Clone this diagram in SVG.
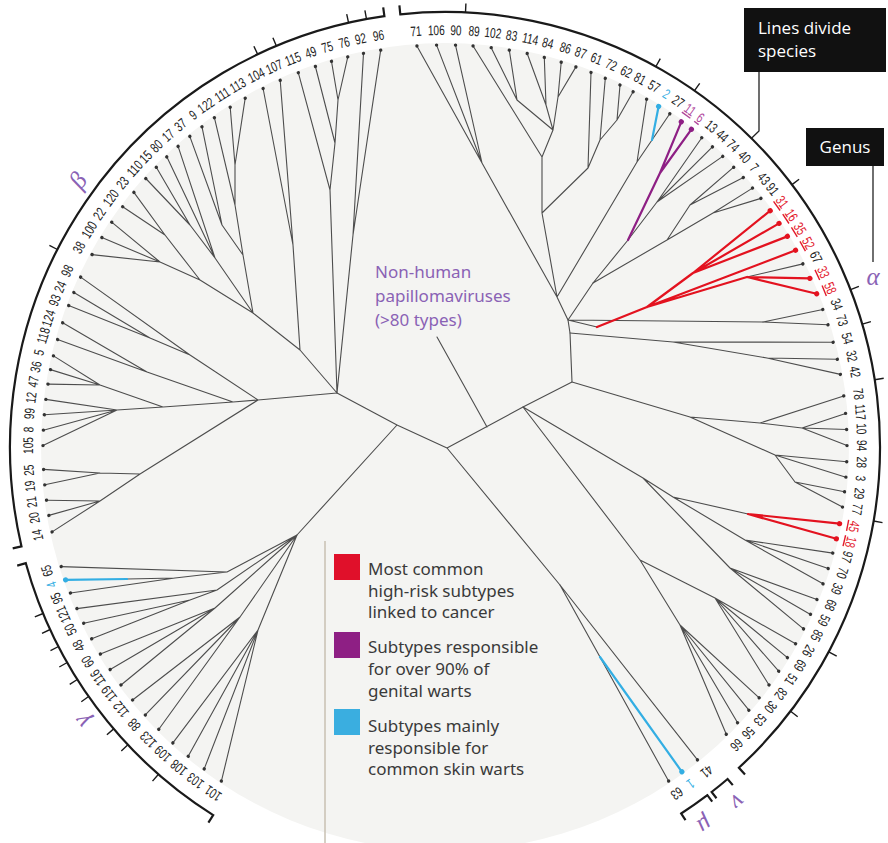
<svg xmlns="http://www.w3.org/2000/svg" width="888" height="843" viewBox="0 0 888 843">
<style>
.e{fill:none;stroke:#4d4d4d;stroke-width:1.1;stroke-linecap:round}
.er{fill:none;stroke:#e3121f;stroke-width:2.2;stroke-linecap:round}
.ep{fill:none;stroke:#8e1f84;stroke-width:2.2;stroke-linecap:round}
.ec{fill:none;stroke:#33aee3;stroke-width:2.2;stroke-linecap:round}
.arc{fill:none;stroke:#1a1a1a;stroke-width:2.2}
.tips text{font-family:"Liberation Sans",Arial,sans-serif;font-size:14px;text-anchor:middle;fill:#222}
.tips circle{fill:#333}
.tips .r text{fill:#e3192e;text-decoration:underline}
.tips .r circle{fill:#e3121f}
.tips .p text{fill:#b0469c;text-decoration:underline}
.tips .p circle{fill:#8e1f84}
.tips .c text{fill:#33aee3}
.tips .c circle{fill:#33aee3}
.lg{font-family:"Noto Sans","Open Sans",sans-serif;font-size:17px;fill:#3a3a3a}
.nh{font-family:"Noto Sans","Open Sans",sans-serif;font-size:17px;fill:#8a62b5}
.gk{font-family:"Liberation Serif",serif;font-style:italic;font-size:25px;fill:#8a62b5;text-anchor:middle}
.bx{font-family:"Open Sans","Noto Sans",sans-serif;font-size:17px;fill:#fff}
</style>
<defs>
<g id="dot"><circle cx="445" cy="45" r="1.7"/></g>
</defs>
<rect width="888" height="843" fill="#fff"/>
<circle cx="445" cy="447" r="404" fill="#f4f4f2"/>

<g id="connectors">
<path class="e" d="M447 448L523 407M447 448L397 425M447 448L560 585M523 407L572 382M572 382L570 333M570 333L568 320M397 425L337 393M397 425L297 535M437 337L487 427"/>
<path class="e" d="M568 320L557 297M568 320L593 283M568 320L597 327M568 320L763 322M557 297L482 163M557 297L542 213M557 297L637 162M482 163L416.9 46M482 163L436.6 45.1M482 163L455.5 45.1M542 213L542 157M542 213L588 168M542 157L473.1 46M542 157L553 130M553 130L517 100M553 130L546 105M553 130L558 97M517 100L491.2 47.7M517 100L509.3 50.2M546 105L527.2 53.5M546 105L544.3 57.5M558 97L561.2 62.2M558 97L575.9 66.9M588 168L591 72.5M588 168L600 140M600 140L605.3 78.3M600 140L617 120M617 120L620 85.1M617 120L633.1 91.7M637 162L646.6 99.2M637 162L652 140M652 140L669.8 113.7"/>
<path class="e" d="M593 283L628 240M593 283L667 240M628 240L657 202M657 202L701.8 137.7M657 202L712.4 146.9M657 202L722.7 156.4M667 240L690 205M667 240L713 213M690 205L733.7 167.2M690 205L743.3 177.5M713 213L752.5 188.1M713 213L760.9 198.4M747 277L802.9 263.9M763 322L822.8 309.5M763 322L828 324.8M570 333L673 342M673 342L833.1 342.3M673 342L767 358M767 358L837.3 359.3M767 358L840.4 374.4"/>
<path class="e" d="M572 382L690 417M690 417L760 423M760 423L843.7 395.9M760 423L802 428M802 428L845.6 413.4M802 428L846.6 429.5M802 428L847 445.6M690 417L775 455M775 455L846.7 461.7M775 455L845.9 477.2M775 455L795 482M795 482L844.5 491.8M795 482L842.5 507.1"/>
<path class="e" d="M523 407L643 478M643 478L673 497M673 497L748 514M673 497L745 540M745 540L832.8 553.1M745 540L828.2 568.6M745 540L823 583.8M643 478L730 568M730 568L816.9 599.6M730 568L810.5 614.4M730 568L803.5 628.9M523 407L640 560M640 560L715 598M715 598L795.6 643.7M715 598L787.4 657.6M715 598L778.7 671.2M715 598L769 685M640 560L680 625M680 625L759.2 697.8M680 625L748.9 710.2M680 625L737.6 722.7M680 625L726.3 734.2"/>
<path class="e" d="M560 585L697.5 759.8M560 585L600 657M600 657L668.6 781.1"/>
<path class="e" d="M337 393L353 235M353 235L363.5 53.4M353 235L380.7 50.2M337 393L330 190M330 190L298.3 72.7M330 190L335 143M335 143L315.4 66.5M335 143L338 100M338 100L331.5 61.4M338 100L347.8 56.9M337 393L300 350M300 350L293 245M293 245L263.1 88.5M293 245L280.2 80.3M300 350L253 313M253 313L243 255M243 255L235 205M235 205L214.4 117.7M235 205L235 165M235 165L230.2 107.2M235 165L245.2 98.1M243 255L222 225M222 225L202 126.8M222 225L189.8 136.4M253 313L215 258M215 258L178.1 146.4M215 258L166.8 156.8M215 258L190 225M190 225L156.3 167.2M190 225L145.8 178.5M253 313L200 280M200 280L165 235M165 235L133.9 192.4M165 235L122.7 206.8M200 280L160 262M160 262L111.7 222.2M160 262L101.9 237.6M160 262L92 254.6"/>
<path class="e" d="M337 393L258 400M258 400L233 402M233 402L147 372M147 372L57.6 339.6M147 372L62.7 322.8M233 402L163 407M163 407L100 385M100 385L48 384.1M100 385L50.5 369.6M100 385L53.5 355.9M163 407L117 410M117 410L45.8 399.4M117 410L44.3 414.8M117 410L43.4 430.2M117 410L43 445.6M258 400L190 355M190 355L80.7 277.1M190 355L150 338M150 338L73.9 292.5M150 338L68.7 305.6M258 400L140 474M140 474L100 473M100 473L43.6 469.4M100 473L44.8 484.8M140 474L100 501M100 501L46.5 500.2M100 501L48.9 515.4M100 501L52.1 531.9"/>
<path class="e" d="M297 535L227 572M227 572L61.2 566.6M227 572L175 578M175 578L70.5 593M175 578L127 579M297 535L217 590M217 590L76.9 608.6M217 590L190 600M190 600L83.7 623.2M190 600L91.7 638.8M297 535L215 608M215 608L100.4 654M215 608L110.2 669.5M215 608L121 685M297 535L240 617M240 617L132.6 700M240 617L145.3 714.9M240 617L158.8 729.3M297 535L258 630M258 630L172.9 742.9M258 630L188.2 756.3M258 630L204.2 768.9M258 630L221.4 781.1"/>
<path class="ep" d="M628 240L660 173M660 173L681.3 121.8M660 173L691.4 129.3"/>
<path class="er" d="M597 327L647 307M647 307L795.6 250.3M647 307L693 273M693 273L770.2 210.7M693 273L779.1 223.4M693 273L787.4 236.4M647 307L747 277M747 277L809.9 278.4M747 277L816.6 293.8M748 514L839.6 523.7M748 514L836.4 538.8"/>
<path class="ec" d="M652 140L658.6 106.5M600 657L681.9 771.8M127 579L65.6 579.9"/>
</g>

<g id="brackets">
<path class="arc" d="M399.4 5.4L400.3 14.3A435 435 0 0 1 738.9 767.7L745 774.4"/>
<path class="arc" d="M12.7 548.4L21.5 546.4A435 435 0 0 1 384.4 16.2L383.2 7.3"/>
<path class="arc" d="M208.4 822.7L213.2 815.1A435 435 0 0 1 25.8 563.2L17.2 565.6"/>
<path class="arc" d="M732.8 785.1L727.6 779A436 436 0 0 1 711.6 792L716.5 798.3"/>
<path class="arc" d="M712.2 801.6L707.4 795.2A436 436 0 0 1 681.2 813.5L685.5 820.2"/>
<path class="arc" style="stroke-width:1.4" d="M57.4 249.5L49.4 245.4M257.7 54.4L253.9 46.2M276.4 46L272.9 37.7M348.6 22.8L346.7 14.1M366.5 19.1L364.9 10.3M465.5 12.5L465.9 3.5M655.9 66.5L660.3 58.7M694.5 90.6L699.7 83.3M792 184.6L799.1 179.2M850.6 289.7L858.9 286.4M862.3 324.2L870.9 321.7M874.8 379.7L883.7 378.3M873.6 521L882.5 522.6M828.7 651.9L836.7 656.1M790.6 711.2L797.7 716.7M43.1 613.5L34.8 616.9M50.1 629.5L42 633.3M58.5 646.5L50.5 650.6M67.2 662.5L59.3 667M77.3 679.5L69.7 684.3M88.6 696.5L81.3 701.7M113.7 728.9L106.9 734.8M127.9 744.8L121.3 750.9M158.5 774.3L152.5 781.1"/>
</g>

<g class="tips">
<g id="t71" transform="rotate(-4 445 447)"><circle cx="445" cy="45" r="1.7"/><text x="618.1" y="35" transform="scale(0.72 1)">71</text></g>
<g id="t106" transform="rotate(-1.2 445 447)"><circle cx="445" cy="45" r="1.7"/><text x="618.1" y="35" transform="scale(0.72 1)">106</text></g>
<g id="t90" transform="rotate(1.5 445 447)"><circle cx="445" cy="45" r="1.7"/><text x="618.1" y="35" transform="scale(0.72 1)">90</text></g>
<g id="t89" transform="rotate(4 445 447)"><circle cx="445" cy="45" r="1.7"/><text x="618.1" y="35" transform="scale(0.72 1)">89</text></g>
<g id="t102" transform="rotate(6.6 445 447)"><circle cx="445" cy="45" r="1.7"/><text x="618.1" y="35" transform="scale(0.72 1)">102</text></g>
<g id="t83" transform="rotate(9.2 445 447)"><circle cx="445" cy="45" r="1.7"/><text x="618.1" y="35" transform="scale(0.72 1)">83</text></g>
<g id="t114" transform="rotate(11.8 445 447)"><circle cx="445" cy="45" r="1.7"/><text x="618.1" y="35" transform="scale(0.72 1)">114</text></g>
<g id="t84" transform="rotate(14.3 445 447)"><circle cx="445" cy="45" r="1.7"/><text x="618.1" y="35" transform="scale(0.72 1)">84</text></g>
<g id="t86" transform="rotate(16.8 445 447)"><circle cx="445" cy="45" r="1.7"/><text x="618.1" y="35" transform="scale(0.72 1)">86</text></g>
<g id="t87" transform="rotate(19 445 447)"><circle cx="445" cy="45" r="1.7"/><text x="618.1" y="35" transform="scale(0.72 1)">87</text></g>
<g id="t61" transform="rotate(21.3 445 447)"><circle cx="445" cy="45" r="1.7"/><text x="618.1" y="35" transform="scale(0.72 1)">61</text></g>
<g id="t72" transform="rotate(23.5 445 447)"><circle cx="445" cy="45" r="1.7"/><text x="618.1" y="35" transform="scale(0.72 1)">72</text></g>
<g id="t62" transform="rotate(25.8 445 447)"><circle cx="445" cy="45" r="1.7"/><text x="618.1" y="35" transform="scale(0.72 1)">62</text></g>
<g id="t81" transform="rotate(27.9 445 447)"><circle cx="445" cy="45" r="1.7"/><text x="618.1" y="35" transform="scale(0.72 1)">81</text></g>
<g id="t57" transform="rotate(30.1 445 447)"><circle cx="445" cy="45" r="1.7"/><text x="618.1" y="35" transform="scale(0.72 1)">57</text></g>
<g id="t2" class="c" transform="rotate(32.1 445 447)"><circle cx="445" cy="45" r="2.6"/><text x="618.1" y="35" transform="scale(0.72 1)">2</text></g>
<g id="t27" transform="rotate(34 445 447)"><circle cx="445" cy="45" r="1.7"/><text x="618.1" y="35" transform="scale(0.72 1)">27</text></g>
<g id="t11" class="p" transform="rotate(36 445 447)"><circle cx="445" cy="45" r="2.6"/><text x="618.1" y="35" transform="scale(0.72 1)">11</text></g>
<g id="t6" class="p" transform="rotate(37.8 445 447)"><circle cx="445" cy="45" r="2.6"/><text x="618.1" y="35" transform="scale(0.72 1)">6</text></g>
<g id="t13" transform="rotate(39.7 445 447)"><circle cx="445" cy="45" r="1.7"/><text x="618.1" y="35" transform="scale(0.72 1)">13</text></g>
<g id="t44" transform="rotate(41.7 445 447)"><circle cx="445" cy="45" r="1.7"/><text x="618.1" y="35" transform="scale(0.72 1)">44</text></g>
<g id="t74" transform="rotate(43.7 445 447)"><circle cx="445" cy="45" r="1.7"/><text x="618.1" y="35" transform="scale(0.72 1)">74</text></g>
<g id="t40" transform="rotate(45.9 445 447)"><circle cx="445" cy="45" r="1.7"/><text x="618.1" y="35" transform="scale(0.72 1)">40</text></g>
<g id="t7" transform="rotate(47.9 445 447)"><circle cx="445" cy="45" r="1.7"/><text x="618.1" y="35" transform="scale(0.72 1)">7</text></g>
<g id="t43" transform="rotate(49.9 445 447)"><circle cx="445" cy="45" r="1.7"/><text x="618.1" y="35" transform="scale(0.72 1)">43</text></g>
<g id="t91" transform="rotate(51.8 445 447)"><circle cx="445" cy="45" r="1.7"/><text x="618.1" y="35" transform="scale(0.72 1)">91</text></g>
<g id="t31" class="r" transform="rotate(54 445 447)"><circle cx="445" cy="45" r="2.6"/><text x="618.1" y="35" transform="scale(0.72 1)">31</text></g>
<g id="t16" class="r" transform="rotate(56.2 445 447)"><circle cx="445" cy="45" r="2.6"/><text x="618.1" y="35" transform="scale(0.72 1)">16</text></g>
<g id="t35" class="r" transform="rotate(58.4 445 447)"><circle cx="445" cy="45" r="2.6"/><text x="618.1" y="35" transform="scale(0.72 1)">35</text></g>
<g id="t52" class="r" transform="rotate(60.7 445 447)"><circle cx="445" cy="45" r="2.6"/><text x="618.1" y="35" transform="scale(0.72 1)">52</text></g>
<g id="t67" transform="rotate(62.9 445 447)"><circle cx="445" cy="45" r="1.7"/><text x="618.1" y="35" transform="scale(0.72 1)">67</text></g>
<g id="t33" class="r" transform="rotate(65.2 445 447)"><circle cx="445" cy="45" r="2.6"/><text x="618.1" y="35" transform="scale(0.72 1)">33</text></g>
<g id="t58" class="r" transform="rotate(67.6 445 447)"><circle cx="445" cy="45" r="2.6"/><text x="618.1" y="35" transform="scale(0.72 1)">58</text></g>
<g id="t34" transform="rotate(70 445 447)"><circle cx="445" cy="45" r="1.7"/><text x="618.1" y="35" transform="scale(0.72 1)">34</text></g>
<g id="t73" transform="rotate(72.3 445 447)"><circle cx="445" cy="45" r="1.7"/><text x="618.1" y="35" transform="scale(0.72 1)">73</text></g>
<g id="t54" transform="rotate(74.9 445 447)"><circle cx="445" cy="45" r="1.7"/><text x="618.1" y="35" transform="scale(0.72 1)">54</text></g>
<g id="t32" transform="rotate(77.4 445 447)"><circle cx="445" cy="45" r="1.7"/><text x="618.1" y="35" transform="scale(0.72 1)">32</text></g>
<g id="t42" transform="rotate(79.6 445 447)"><circle cx="445" cy="45" r="1.7"/><text x="618.1" y="35" transform="scale(0.72 1)">42</text></g>
<g id="t78" transform="rotate(82.7 445 447)"><circle cx="445" cy="45" r="1.7"/><text x="618.1" y="35" transform="scale(0.72 1)">78</text></g>
<g id="t117" transform="rotate(85.2 445 447)"><circle cx="445" cy="45" r="1.7"/><text x="618.1" y="35" transform="scale(0.72 1)">117</text></g>
<g id="t10" transform="rotate(87.5 445 447)"><circle cx="445" cy="45" r="1.7"/><text x="618.1" y="35" transform="scale(0.72 1)">10</text></g>
<g id="t94" transform="rotate(89.8 445 447)"><circle cx="445" cy="45" r="1.7"/><text x="618.1" y="35" transform="scale(0.72 1)">94</text></g>
<g id="t28" transform="rotate(92.1 445 447)"><circle cx="445" cy="45" r="1.7"/><text x="618.1" y="35" transform="scale(0.72 1)">28</text></g>
<g id="t3" transform="rotate(94.3 445 447)"><circle cx="445" cy="45" r="1.7"/><text x="618.1" y="35" transform="scale(0.72 1)">3</text></g>
<g id="t29" transform="rotate(96.4 445 447)"><circle cx="445" cy="45" r="1.7"/><text x="618.1" y="35" transform="scale(0.72 1)">29</text></g>
<g id="t77" transform="rotate(98.6 445 447)"><circle cx="445" cy="45" r="1.7"/><text x="618.1" y="35" transform="scale(0.72 1)">77</text></g>
<g id="t45" class="r" transform="rotate(101 445 447)"><circle cx="445" cy="45" r="2.6"/><text x="618.1" y="35" transform="scale(0.72 1)">45</text></g>
<g id="t18" class="r" transform="rotate(103.2 445 447)"><circle cx="445" cy="45" r="2.6"/><text x="618.1" y="35" transform="scale(0.72 1)">18</text></g>
<g id="t97" transform="rotate(105.3 445 447)"><circle cx="445" cy="45" r="1.7"/><text x="618.1" y="35" transform="scale(0.72 1)">97</text></g>
<g id="t70" transform="rotate(107.6 445 447)"><circle cx="445" cy="45" r="1.7"/><text x="618.1" y="35" transform="scale(0.72 1)">70</text></g>
<g id="t39" transform="rotate(109.9 445 447)"><circle cx="445" cy="45" r="1.7"/><text x="618.1" y="35" transform="scale(0.72 1)">39</text></g>
<g id="t68" transform="rotate(112.3 445 447)"><circle cx="445" cy="45" r="1.7"/><text x="618.1" y="35" transform="scale(0.72 1)">68</text></g>
<g id="t59" transform="rotate(114.6 445 447)"><circle cx="445" cy="45" r="1.7"/><text x="618.1" y="35" transform="scale(0.72 1)">59</text></g>
<g id="t85" transform="rotate(116.9 445 447)"><circle cx="445" cy="45" r="1.7"/><text x="618.1" y="35" transform="scale(0.72 1)">85</text></g>
<g id="t26" transform="rotate(119.3 445 447)"><circle cx="445" cy="45" r="1.7"/><text x="618.1" y="35" transform="scale(0.72 1)">26</text></g>
<g id="t69" transform="rotate(121.6 445 447)"><circle cx="445" cy="45" r="1.7"/><text x="618.1" y="35" transform="scale(0.72 1)">69</text></g>
<g id="t51" transform="rotate(123.9 445 447)"><circle cx="445" cy="45" r="1.7"/><text x="618.1" y="35" transform="scale(0.72 1)">51</text></g>
<g id="t82" transform="rotate(126.3 445 447)"><circle cx="445" cy="45" r="1.7"/><text x="618.1" y="35" transform="scale(0.72 1)">82</text></g>
<g id="t30" transform="rotate(128.6 445 447)"><circle cx="445" cy="45" r="1.7"/><text x="618.1" y="35" transform="scale(0.72 1)">30</text></g>
<g id="t53" transform="rotate(130.9 445 447)"><circle cx="445" cy="45" r="1.7"/><text x="618.1" y="35" transform="scale(0.72 1)">53</text></g>
<g id="t56" transform="rotate(133.3 445 447)"><circle cx="445" cy="45" r="1.7"/><text x="618.1" y="35" transform="scale(0.72 1)">56</text></g>
<g id="t66" transform="rotate(135.6 445 447)"><circle cx="445" cy="45" r="1.7"/><text x="618.1" y="35" transform="scale(0.72 1)">66</text></g>
<g id="t41" transform="rotate(141.1 445 447)"><circle cx="445" cy="45" r="1.7"/><text x="618.1" y="35" transform="scale(0.72 1)">41</text></g>
<g id="t1" class="c" transform="rotate(143.9 445 447)"><circle cx="445" cy="45" r="2.6"/><text x="618.1" y="35" transform="scale(0.72 1)">1</text></g>
<g id="t63" transform="rotate(146.2 445 447)"><circle cx="445" cy="45" r="1.7"/><text x="618.1" y="35" transform="scale(0.72 1)">63</text></g>
<g id="t101" transform="rotate(213.8 445 447)"><circle cx="445" cy="45" r="1.7"/><text x="618.1" y="35" transform="scale(0.72 1)">101</text></g>
<g id="t103" transform="rotate(216.8 445 447)"><circle cx="445" cy="45" r="1.7"/><text x="618.1" y="35" transform="scale(0.72 1)">103</text></g>
<g id="t108" transform="rotate(219.7 445 447)"><circle cx="445" cy="45" r="1.7"/><text x="618.1" y="35" transform="scale(0.72 1)">108</text></g>
<g id="t109" transform="rotate(222.6 445 447)"><circle cx="445" cy="45" r="1.7"/><text x="618.1" y="35" transform="scale(0.72 1)">109</text></g>
<g id="t123" transform="rotate(225.4 445 447)"><circle cx="445" cy="45" r="1.7"/><text x="618.1" y="35" transform="scale(0.72 1)">123</text></g>
<g id="t88" transform="rotate(228.2 445 447)"><circle cx="445" cy="45" r="1.7"/><text x="618.1" y="35" transform="scale(0.72 1)">88</text></g>
<g id="t112" transform="rotate(231 445 447)"><circle cx="445" cy="45" r="1.7"/><text x="618.1" y="35" transform="scale(0.72 1)">112</text></g>
<g id="t119" transform="rotate(233.7 445 447)"><circle cx="445" cy="45" r="1.7"/><text x="618.1" y="35" transform="scale(0.72 1)">119</text></g>
<g id="t116" transform="rotate(236.4 445 447)"><circle cx="445" cy="45" r="1.7"/><text x="618.1" y="35" transform="scale(0.72 1)">116</text></g>
<g id="t60" transform="rotate(239 445 447)"><circle cx="445" cy="45" r="1.7"/><text x="618.1" y="35" transform="scale(0.72 1)">60</text></g>
<g id="t48" transform="rotate(241.5 445 447)"><circle cx="445" cy="45" r="1.7"/><text x="618.1" y="35" transform="scale(0.72 1)">48</text></g>
<g id="t50" transform="rotate(244 445 447)"><circle cx="445" cy="45" r="1.7"/><text x="618.1" y="35" transform="scale(0.72 1)">50</text></g>
<g id="t121" transform="rotate(246.3 445 447)"><circle cx="445" cy="45" r="1.7"/><text x="618.1" y="35" transform="scale(0.72 1)">121</text></g>
<g id="t95" transform="rotate(248.7 445 447)"><circle cx="445" cy="45" r="1.7"/><text x="618.1" y="35" transform="scale(0.72 1)">95</text></g>
<g id="t4" class="c" transform="rotate(250.7 445 447)"><circle cx="445" cy="45" r="2.6"/><text x="618.1" y="35" transform="scale(0.72 1)">4</text></g>
<g id="t65" transform="rotate(252.7 445 447)"><circle cx="445" cy="45" r="1.7"/><text x="618.1" y="35" transform="scale(0.72 1)">65</text></g>
<g id="t14" transform="rotate(257.8 445 447)"><circle cx="445" cy="45" r="1.7"/><text x="618.1" y="35" transform="scale(0.72 1)">14</text></g>
<g id="t20" transform="rotate(260.2 445 447)"><circle cx="445" cy="45" r="1.7"/><text x="618.1" y="35" transform="scale(0.72 1)">20</text></g>
<g id="t21" transform="rotate(262.4 445 447)"><circle cx="445" cy="45" r="1.7"/><text x="618.1" y="35" transform="scale(0.72 1)">21</text></g>
<g id="t19" transform="rotate(264.6 445 447)"><circle cx="445" cy="45" r="1.7"/><text x="618.1" y="35" transform="scale(0.72 1)">19</text></g>
<g id="t25" transform="rotate(266.8 445 447)"><circle cx="445" cy="45" r="1.7"/><text x="618.1" y="35" transform="scale(0.72 1)">25</text></g>
<g id="t105" transform="rotate(270.2 445 447)"><circle cx="445" cy="45" r="1.7"/><text x="618.1" y="35" transform="scale(0.72 1)">105</text></g>
<g id="t8" transform="rotate(272.4 445 447)"><circle cx="445" cy="45" r="1.7"/><text x="618.1" y="35" transform="scale(0.72 1)">8</text></g>
<g id="t99" transform="rotate(274.6 445 447)"><circle cx="445" cy="45" r="1.7"/><text x="618.1" y="35" transform="scale(0.72 1)">99</text></g>
<g id="t12" transform="rotate(276.8 445 447)"><circle cx="445" cy="45" r="1.7"/><text x="618.1" y="35" transform="scale(0.72 1)">12</text></g>
<g id="t47" transform="rotate(279 445 447)"><circle cx="445" cy="45" r="1.7"/><text x="618.1" y="35" transform="scale(0.72 1)">47</text></g>
<g id="t36" transform="rotate(281.1 445 447)"><circle cx="445" cy="45" r="1.7"/><text x="618.1" y="35" transform="scale(0.72 1)">36</text></g>
<g id="t5" transform="rotate(283.1 445 447)"><circle cx="445" cy="45" r="1.7"/><text x="618.1" y="35" transform="scale(0.72 1)">5</text></g>
<g id="t118" transform="rotate(285.5 445 447)"><circle cx="445" cy="45" r="1.7"/><text x="618.1" y="35" transform="scale(0.72 1)">118</text></g>
<g id="t124" transform="rotate(288 445 447)"><circle cx="445" cy="45" r="1.7"/><text x="618.1" y="35" transform="scale(0.72 1)">124</text></g>
<g id="t93" transform="rotate(290.6 445 447)"><circle cx="445" cy="45" r="1.7"/><text x="618.1" y="35" transform="scale(0.72 1)">93</text></g>
<g id="t24" transform="rotate(292.6 445 447)"><circle cx="445" cy="45" r="1.7"/><text x="618.1" y="35" transform="scale(0.72 1)">24</text></g>
<g id="t98" transform="rotate(295 445 447)"><circle cx="445" cy="45" r="1.7"/><text x="618.1" y="35" transform="scale(0.72 1)">98</text></g>
<g id="t38" transform="rotate(298.6 445 447)"><circle cx="445" cy="45" r="1.7"/><text x="618.1" y="35" transform="scale(0.72 1)">38</text></g>
<g id="t100" transform="rotate(301.4 445 447)"><circle cx="445" cy="45" r="1.7"/><text x="618.1" y="35" transform="scale(0.72 1)">100</text></g>
<g id="t22" transform="rotate(304 445 447)"><circle cx="445" cy="45" r="1.7"/><text x="618.1" y="35" transform="scale(0.72 1)">22</text></g>
<g id="t120" transform="rotate(306.7 445 447)"><circle cx="445" cy="45" r="1.7"/><text x="618.1" y="35" transform="scale(0.72 1)">120</text></g>
<g id="t23" transform="rotate(309.3 445 447)"><circle cx="445" cy="45" r="1.7"/><text x="618.1" y="35" transform="scale(0.72 1)">23</text></g>
<g id="t110" transform="rotate(311.9 445 447)"><circle cx="445" cy="45" r="1.7"/><text x="618.1" y="35" transform="scale(0.72 1)">110</text></g>
<g id="t15" transform="rotate(314.1 445 447)"><circle cx="445" cy="45" r="1.7"/><text x="618.1" y="35" transform="scale(0.72 1)">15</text></g>
<g id="t80" transform="rotate(316.2 445 447)"><circle cx="445" cy="45" r="1.7"/><text x="618.1" y="35" transform="scale(0.72 1)">80</text></g>
<g id="t17" transform="rotate(318.4 445 447)"><circle cx="445" cy="45" r="1.7"/><text x="618.1" y="35" transform="scale(0.72 1)">17</text></g>
<g id="t37" transform="rotate(320.6 445 447)"><circle cx="445" cy="45" r="1.7"/><text x="618.1" y="35" transform="scale(0.72 1)">37</text></g>
<g id="t9" transform="rotate(322.8 445 447)"><circle cx="445" cy="45" r="1.7"/><text x="618.1" y="35" transform="scale(0.72 1)">9</text></g>
<g id="t122" transform="rotate(325 445 447)"><circle cx="445" cy="45" r="1.7"/><text x="618.1" y="35" transform="scale(0.72 1)">122</text></g>
<g id="t111" transform="rotate(327.7 445 447)"><circle cx="445" cy="45" r="1.7"/><text x="618.1" y="35" transform="scale(0.72 1)">111</text></g>
<g id="t113" transform="rotate(330.2 445 447)"><circle cx="445" cy="45" r="1.7"/><text x="618.1" y="35" transform="scale(0.72 1)">113</text></g>
<g id="t104" transform="rotate(333.1 445 447)"><circle cx="445" cy="45" r="1.7"/><text x="618.1" y="35" transform="scale(0.72 1)">104</text></g>
<g id="t107" transform="rotate(335.8 445 447)"><circle cx="445" cy="45" r="1.7"/><text x="618.1" y="35" transform="scale(0.72 1)">107</text></g>
<g id="t115" transform="rotate(338.6 445 447)"><circle cx="445" cy="45" r="1.7"/><text x="618.1" y="35" transform="scale(0.72 1)">115</text></g>
<g id="t49" transform="rotate(341.2 445 447)"><circle cx="445" cy="45" r="1.7"/><text x="618.1" y="35" transform="scale(0.72 1)">49</text></g>
<g id="t75" transform="rotate(343.6 445 447)"><circle cx="445" cy="45" r="1.7"/><text x="618.1" y="35" transform="scale(0.72 1)">75</text></g>
<g id="t76" transform="rotate(346 445 447)"><circle cx="445" cy="45" r="1.7"/><text x="618.1" y="35" transform="scale(0.72 1)">76</text></g>
<g id="t92" transform="rotate(348.3 445 447)"><circle cx="445" cy="45" r="1.7"/><text x="618.1" y="35" transform="scale(0.72 1)">92</text></g>
<g id="t96" transform="rotate(350.8 445 447)"><circle cx="445" cy="45" r="1.7"/><text x="618.1" y="35" transform="scale(0.72 1)">96</text></g>
</g>

<g id="genus-labels">
<text class="gk" transform="translate(77.7 180.1) rotate(-54)" dy="0.35em">β</text>
<text class="gk" transform="translate(81.3 722.1) rotate(233)" dy="0.35em">γ</text>
<text class="gk" transform="translate(873 276)" dy="0.35em">α</text>
<text class="gk" transform="translate(738.2 802.7) rotate(140.5)" dy="0.35em">ν</text>
<text class="gk" transform="translate(705.5 826.1) rotate(145.5)" dy="0.35em">μ</text>
</g>

<g id="nonhuman">
<text class="nh" x="375" y="278">Non-human</text>
<text class="nh" x="375" y="302">papillomaviruses</text>
<text class="nh" x="375" y="326">(&gt;80 types)</text>
</g>

<g id="key-species">
<rect x="744" y="8" width="142" height="64" fill="#111"/>
<text class="bx" x="758" y="34">Lines divide</text>
<text class="bx" x="758" y="57">species</text>
<path d="M751.5 138.3L759 131L759 72" fill="none" stroke="#222" stroke-width="1.3"/>
</g>
<g id="key-genus">
<rect x="806" y="128" width="78" height="38" fill="#111"/>
<text class="bx" x="845" y="153" text-anchor="middle">Genus</text>
<path d="M873 166L873 262" fill="none" stroke="#222" stroke-width="1.3"/>
</g>

<g id="legend">
<path d="M325 541L325 843" stroke="#c9c0b2" stroke-width="1.5"/>
<rect x="334" y="554" width="26" height="26" fill="#e0102a"/>
<rect x="334" y="632" width="26" height="26" fill="#8e1f84"/>
<rect x="334" y="709" width="26" height="26" fill="#3aaee0"/>
<text class="lg" x="368" y="575">Most common</text>
<text class="lg" x="368" y="597">high-risk subtypes</text>
<text class="lg" x="368" y="618">linked to cancer</text>
<text class="lg" x="368" y="653">Subtypes responsible</text>
<text class="lg" x="368" y="675">for over 90% of</text>
<text class="lg" x="368" y="697">genital warts</text>
<text class="lg" x="368" y="732">Subtypes mainly</text>
<text class="lg" x="368" y="754">responsible for</text>
<text class="lg" x="368" y="775">common skin warts</text>
</g>
</svg>
